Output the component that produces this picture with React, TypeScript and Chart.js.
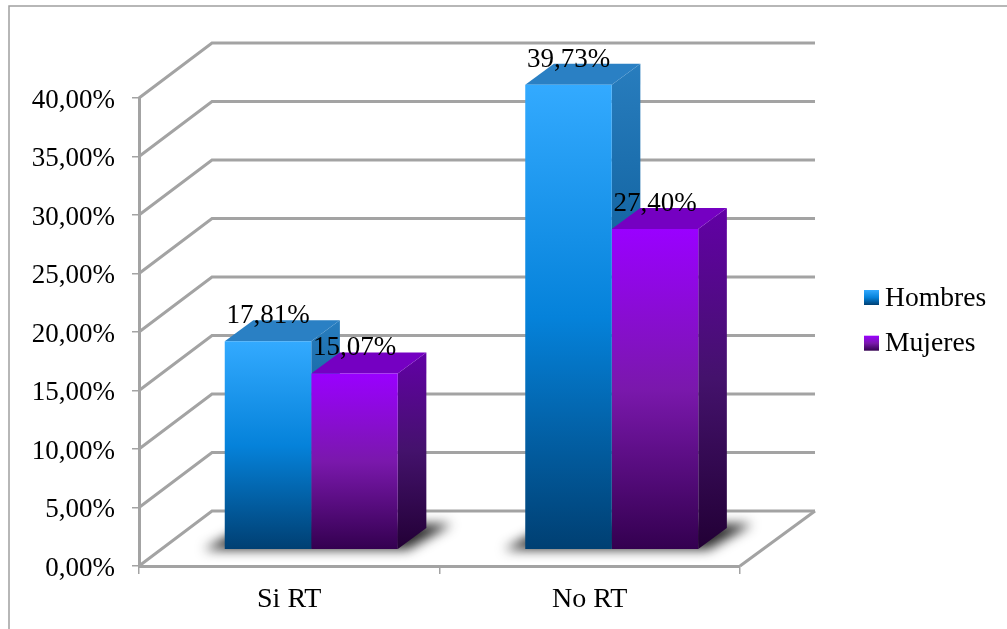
import React, { useEffect, useRef } from "react";
import { Chart, registerables } from "chart.js";

Chart.register(...registerables);

const categories = ["Si RT", "No RT"];
const hombres = [17.81, 39.73];
const mujeres = [15.07, 27.4];
const yTickLabels = ["0,00%", "5,00%", "10,00%", "15,00%", "20,00%", "25,00%", "30,00%", "35,00%", "40,00%"];
const barLabels = [
  ["17,81%", "39,73%"],
  ["15,07%", "27,40%"],
];

const FONT = '"Liberation Serif", serif';
const FONT_SIZE = 27;
const GRID = "#a3a3a3";

// Colour ramps for each series: front face, side face, top face.
const RAMPS = [
  {
    front: ["#33aaff", "#0582da", "#003f72"],
    side: ["#287dbe", "#0c5c98", "#002e52"],
    top: "#2a80c4",
  },
  {
    front: ["#9a00ff", "#7a18ac", "#33004f"],
    side: ["#6200a6", "#44126c", "#220035"],
    top: "#7500c2",
  },
];

// Pseudo-3D projection offsets, in pixels.
const WALL_DX = 74;
const WALL_DY = -55;
const BAR_SHIFT_X = 22;
const BAR_SHIFT_Y = -16.3;
const BAR_DX = 28.6;
const BAR_DY = -21;

function ramp(ctx: CanvasRenderingContext2D, y0: number, y1: number, stops: string[]) {
  const g = ctx.createLinearGradient(0, y0, 0, y1);
  stops.forEach((c, i) => g.addColorStop(i / (stops.length - 1), c));
  return g;
}

function frontFill(seriesIndex: number) {
  return (c: any) => {
    const chart = c.chart;
    if (c.type !== "data" || !chart.chartArea) return RAMPS[seriesIndex].front[1];
    const y = chart.scales.y;
    return ramp(chart.ctx, y.getPixelForValue(c.raw), y.getPixelForValue(0), RAMPS[seriesIndex].front);
  };
}

const projectionPlugin = {
  id: "projection",
  beforeDraw(chart: any) {
    const ctx = chart.ctx;
    ctx.save();
    ctx.strokeStyle = "#a0a0a0";
    ctx.lineWidth = 1.5;
    ctx.beginPath();
    ctx.moveTo(9, chart.height);
    ctx.lineTo(9, 6);
    ctx.lineTo(chart.width, 6);
    ctx.stroke();
    ctx.restore();
  },
  beforeDatasetsDraw(chart: any) {
    const { ctx, chartArea: area, scales } = chart;
    ctx.save();
    ctx.strokeStyle = GRID;
    ctx.lineWidth = 3;
    ctx.lineJoin = "miter";
    // Side wall, back wall and floor lines for every tick.
    for (const t of scales.y.ticks) {
      const py = scales.y.getPixelForValue(t.value);
      ctx.beginPath();
      ctx.moveTo(area.left, py);
      ctx.lineTo(area.left + WALL_DX - 1, py + WALL_DY);
      ctx.lineTo(area.right + WALL_DX + 1, py + WALL_DY);
      ctx.stroke();
    }
    const floor = scales.y.getPixelForValue(0);
    ctx.beginPath();
    ctx.moveTo(area.right, floor);
    ctx.lineTo(area.right + WALL_DX + 1, floor + WALL_DY);
    ctx.stroke();
    ctx.restore();

    // Soft floor shadow under each pair of bars.
    const first = chart.getDatasetMeta(0).data;
    const second = chart.getDatasetMeta(1).data;
    first.forEach((bar: any, i: number) => {
      const left = bar.x - bar.width / 2 + BAR_SHIFT_X;
      const right = second[i].x + second[i].width / 2 + BAR_SHIFT_X;
      const base = bar.base + BAR_SHIFT_Y;
      ctx.save();
      ctx.filter = "blur(6px)";
      ctx.fillStyle = "rgba(20,20,20,0.9)";
      ctx.beginPath();
      ctx.moveTo(left - 21, base + 0.5);
      ctx.lineTo(right + 10, base + 0.5);
      ctx.lineTo(right + 54, base - 25);
      ctx.lineTo(left + 26, base - 25);
      ctx.closePath();
      ctx.fill();
      ctx.restore();
    });

    // Extruded side and top faces, first series first so the second overlaps it.
    ctx.save();
    ctx.translate(BAR_SHIFT_X, BAR_SHIFT_Y);
    [0, 1].forEach((ds) => {
      const colours = RAMPS[ds];
      for (const bar of chart.getDatasetMeta(ds).data) {
        const l = bar.x - bar.width / 2;
        const r = bar.x + bar.width / 2;
        const t = bar.y;
        const b = bar.base;
        ctx.fillStyle = ramp(ctx, t + BAR_DY, b, colours.side);
        ctx.beginPath();
        ctx.moveTo(r, t);
        ctx.lineTo(r + BAR_DX, t + BAR_DY);
        ctx.lineTo(r + BAR_DX, b + BAR_DY);
        ctx.lineTo(r, b);
        ctx.closePath();
        ctx.fill();
        ctx.fillStyle = colours.top;
        ctx.beginPath();
        ctx.moveTo(l, t);
        ctx.lineTo(l + BAR_DX, t + BAR_DY);
        ctx.lineTo(r + BAR_DX, t + BAR_DY);
        ctx.lineTo(r, t);
        ctx.closePath();
        ctx.fill();
      }
    });
    ctx.restore();
  },
  beforeDatasetDraw(chart: any) {
    chart.ctx.save();
    chart.ctx.translate(BAR_SHIFT_X, BAR_SHIFT_Y);
  },
  afterDatasetDraw(chart: any) {
    chart.ctx.restore();
  },
  afterDatasetsDraw(chart: any) {
    const ctx = chart.ctx;
    ctx.save();
    ctx.fillStyle = "#000";
    ctx.font = `${FONT_SIZE}px ${FONT}`;
    ctx.textAlign = "center";
    ctx.textBaseline = "middle";
    barLabels.forEach((labels, ds) => {
      chart.getDatasetMeta(ds).data.forEach((bar: any, i: number) => {
        ctx.fillText(labels[i], bar.x + BAR_SHIFT_X, bar.y + BAR_SHIFT_Y - 25);
      });
    });

    // Series key on the right-hand side.
    const keyX = 864;
    const keyTop = 290;
    const keyStep = 45.7;
    const keySize = 15;
    ctx.textAlign = "left";
    ctx.font = `27.6px ${FONT}`;
    chart.data.datasets.forEach((ds: any, i: number) => {
      const y = keyTop + i * keyStep;
      ctx.fillStyle = ramp(ctx, y, y + keySize, RAMPS[i].front);
      ctx.fillRect(keyX, y, keySize, keySize);
      ctx.fillStyle = "#000";
      ctx.fillText(ds.label, keyX + keySize + 6, y + keySize / 2 + 1);
    });
    ctx.restore();
  },
};

export default function App() {
  const ref = useRef<HTMLCanvasElement>(null);

  useEffect(() => {
    const chart = new Chart(ref.current as HTMLCanvasElement, {
      type: "bar",
      data: {
        labels: categories,
        datasets: [
          { label: "Hombres", data: hombres, backgroundColor: frontFill(0), clip: false },
          { label: "Mujeres", data: mujeres, backgroundColor: frontFill(1), clip: false },
        ],
      } as any,
      plugins: [projectionPlugin],
      options: {
        responsive: false,
        animation: false,
        layout: { padding: { top: 98, right: 267, left: 0, bottom: 0 } },
        datasets: { bar: { categoryPercentage: 0.5757, barPercentage: 1 } },
        plugins: { legend: { display: false }, tooltip: { enabled: false } },
        scales: {
          x: {
            afterFit: (s: any) => { s.height = 63; },
            grid: { drawOnChartArea: false, color: GRID, lineWidth: 1.5, tickLength: 8 },
            border: { color: GRID, width: 3 },
            ticks: { color: "#000", font: { family: FONT, size: 28 }, padding: 9 },
          },
          y: {
            min: 0,
            max: 40,
            afterFit: (s: any) => { s.width = 139; },
            grid: { drawOnChartArea: false, color: GRID, lineWidth: 1.5, tickLength: 7 },
            border: { color: GRID, width: 3 },
            ticks: {
              stepSize: 5,
              color: "#000",
              font: { family: FONT, size: FONT_SIZE },
              padding: 17,
              labelOffset: 2.5,
              callback: (_v: any, i: number) => yTickLabels[i],
            },
          },
        },
      } as any,
    });
    return () => chart.destroy();
  }, []);

  return (
    <div style={{ position: "fixed", left: 0, top: 0, width: 1007, height: 629, background: "#fff" }}>
      <canvas ref={ref} width={1007} height={629} style={{ display: "block" }} />
    </div>
  );
}
